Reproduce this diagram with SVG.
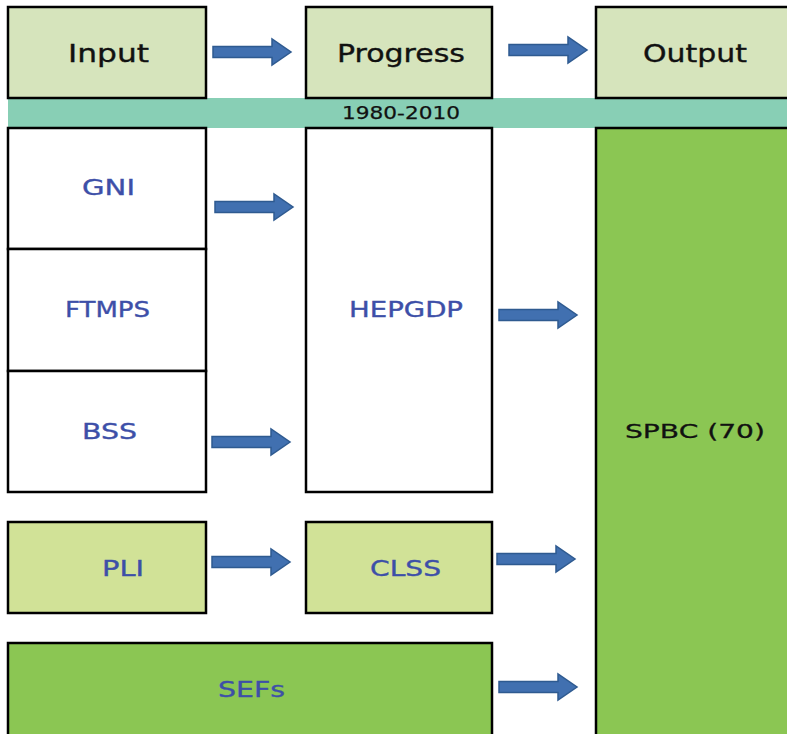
<svg xmlns="http://www.w3.org/2000/svg" xmlns:xlink="http://www.w3.org/1999/xlink" width="787" height="734" viewBox="0 0 787 734">
<style>
.box{stroke:#000;stroke-width:2.5}
.hdr{fill:#D6E4BC}
.lt{fill:#D1E297}
.dk{fill:#8BC653}
.wh{fill:#fff}
.th{font-family:"DejaVu Sans","Verdana",sans-serif;font-size:24px;fill:#111;stroke:#111;stroke-width:0.35;text-anchor:middle}
.tl{font-family:"DejaVu Sans","Verdana",sans-serif;font-size:21px;fill:#3D4FA8;stroke:#3D4FA8;stroke-width:0.35;text-anchor:middle}
.tk{font-family:"DejaVu Sans","Verdana",sans-serif;font-size:20px;fill:#111;stroke:#111;stroke-width:0.3;text-anchor:middle}
.tb{font-family:"DejaVu Sans","Verdana",sans-serif;font-size:18px;fill:#111;stroke:#111;stroke-width:0.25;text-anchor:middle}
.arr{fill:#4170B0;stroke:#2E5A90;stroke-width:1.5}
</style>
<defs>
<path id="arrow" d="M0,-5.5 H59 V-13 L78,0 L59,13 V5.5 H0 Z"/>
</defs>
<rect x="8" y="98" width="781" height="30" fill="#88CFB5"/>
<text class="tb" x="401" y="119" textLength="118" lengthAdjust="spacingAndGlyphs">1980-2010</text>
<g id="input"><rect class="box hdr" x="8" y="7" width="198" height="91"/><text class="th" x="108.5" y="62" textLength="81" lengthAdjust="spacingAndGlyphs">Input</text></g>
<g id="progress"><rect class="box hdr" x="306" y="7" width="186" height="91"/><text class="th" x="401" y="62" textLength="128" lengthAdjust="spacingAndGlyphs">Progress</text></g>
<g id="output"><rect class="box hdr" x="596" y="7" width="195" height="91"/><text class="th" x="695" y="62" textLength="104" lengthAdjust="spacingAndGlyphs">Output</text></g>
<g id="gni"><rect class="box wh" x="8" y="128" width="198" height="121"/><text class="tl" x="108.5" y="195" textLength="53" lengthAdjust="spacingAndGlyphs">GNI</text></g>
<g id="ftmps"><rect class="box wh" x="8" y="249" width="198" height="122"/><text class="tl" x="107.5" y="317" textLength="85" lengthAdjust="spacingAndGlyphs">FTMPS</text></g>
<g id="bss"><rect class="box wh" x="8" y="371" width="198" height="121"/><text class="tl" x="109.5" y="439" textLength="55" lengthAdjust="spacingAndGlyphs">BSS</text></g>
<g id="hepgdp"><rect class="box wh" x="306" y="128" width="186" height="364"/><text class="tl" x="406" y="317" textLength="114" lengthAdjust="spacingAndGlyphs">HEPGDP</text></g>
<g id="spbc"><rect class="box dk" x="596" y="128" width="195" height="610"/><text class="tk" x="695" y="438" textLength="140" lengthAdjust="spacingAndGlyphs">SPBC (70)</text></g>
<g id="pli"><rect class="box lt" x="8" y="522" width="198" height="91"/><text class="tl" x="123" y="576" textLength="42" lengthAdjust="spacingAndGlyphs">PLI</text></g>
<g id="clss"><rect class="box lt" x="306" y="522" width="186" height="91"/><text class="tl" x="405.5" y="576" textLength="71" lengthAdjust="spacingAndGlyphs">CLSS</text></g>
<g id="sefs"><rect class="box dk" x="8" y="643" width="484" height="95"/><text class="tl" x="251.5" y="697" textLength="67" lengthAdjust="spacingAndGlyphs">SEFs</text></g>
<g id="connectors">
<use href="#arrow" xlink:href="#arrow" class="arr" transform="translate(213,52)"/>
<use href="#arrow" xlink:href="#arrow" class="arr" transform="translate(509,50)"/>
<use href="#arrow" xlink:href="#arrow" class="arr" transform="translate(215,207)"/>
<use href="#arrow" xlink:href="#arrow" class="arr" transform="translate(212,442)"/>
<use href="#arrow" xlink:href="#arrow" class="arr" transform="translate(499,315)"/>
<use href="#arrow" xlink:href="#arrow" class="arr" transform="translate(212,562)"/>
<use href="#arrow" xlink:href="#arrow" class="arr" transform="translate(497,559)"/>
<use href="#arrow" xlink:href="#arrow" class="arr" transform="translate(499,687)"/>
</g>
</svg>
